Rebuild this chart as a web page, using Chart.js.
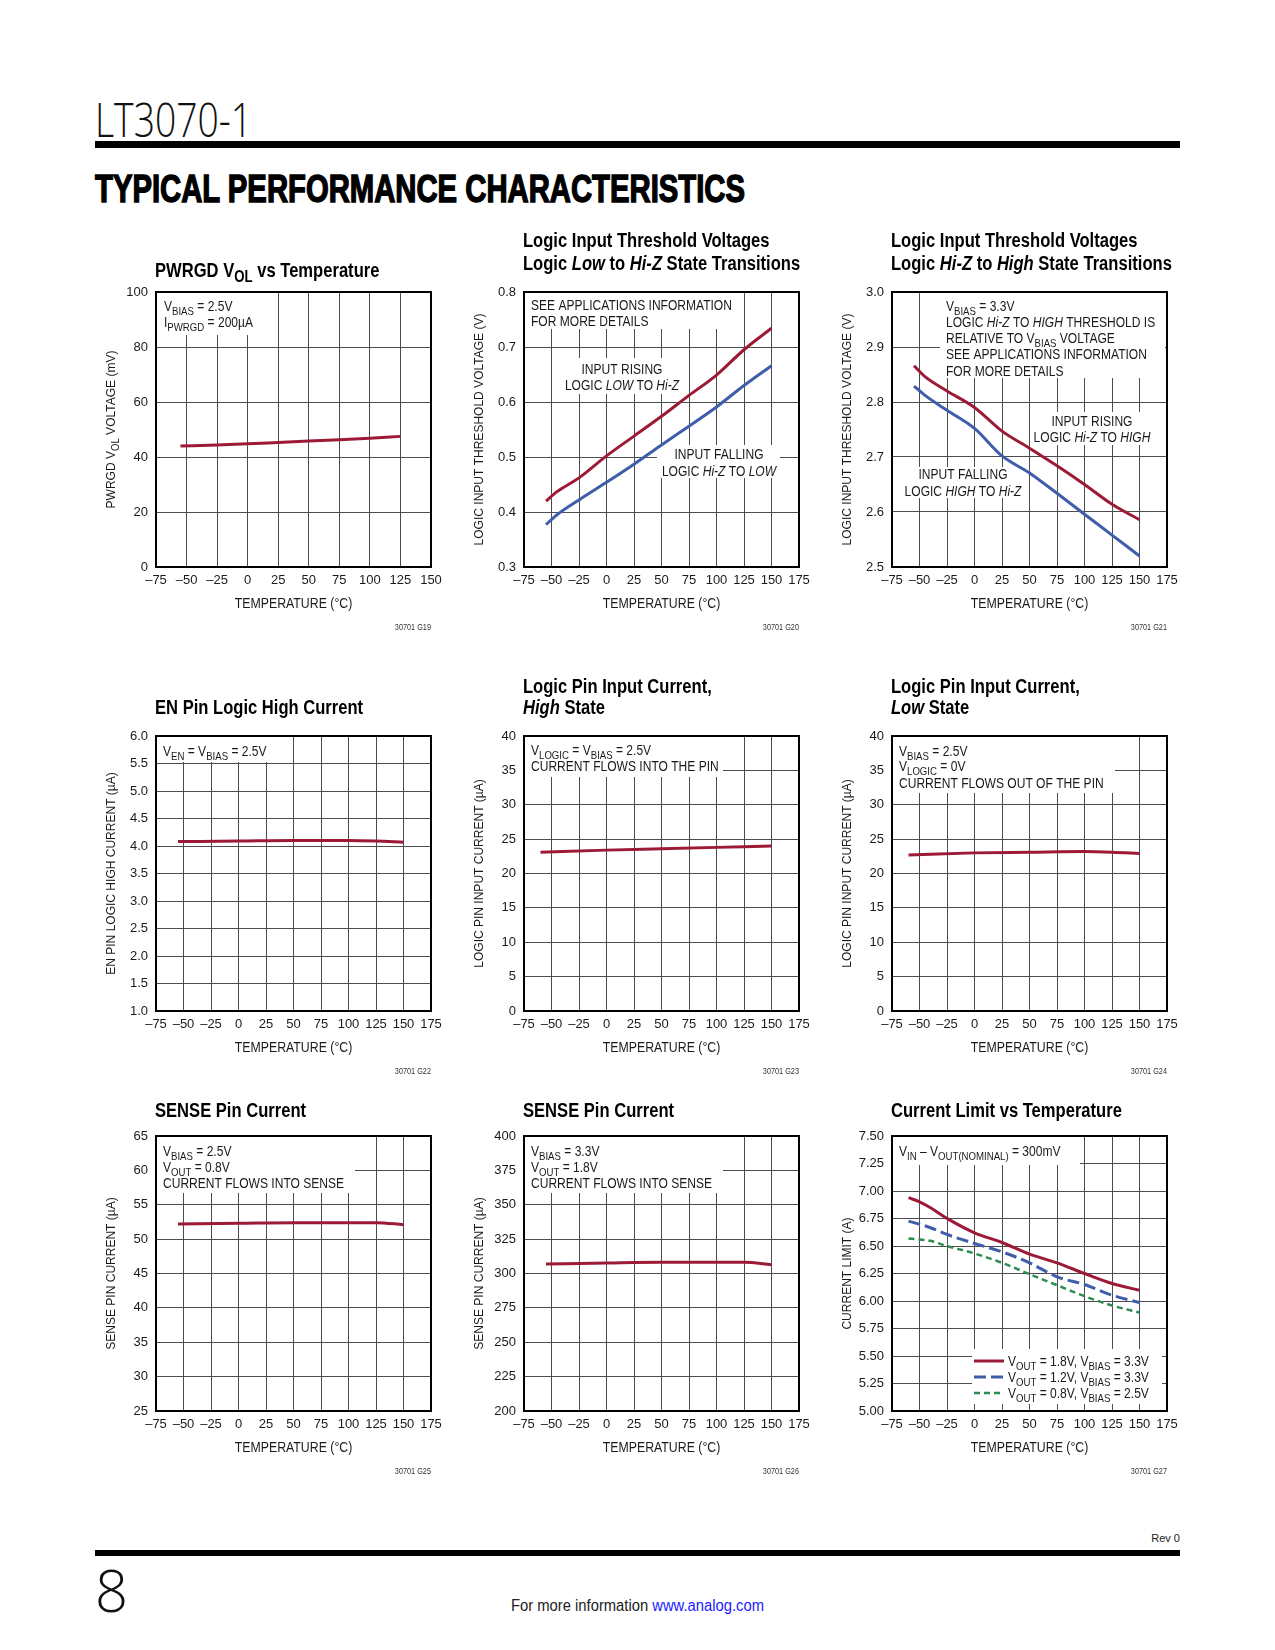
<!DOCTYPE html>
<html>
<head>
<meta charset="utf-8">
<script src="https://cdn.jsdelivr.net/npm/chart.js@4.4.1/dist/chart.umd.min.js"></script>
<style>
  body { margin: 0; width: 1275px; height: 1650px; background: #fff; position: relative; overflow: hidden; }
  .txt { position: absolute; white-space: nowrap; line-height: 1; transform-origin: left top; }
  .rule { position: absolute; background: #000; left: 95px; width: 1085px; }
  canvas { position: absolute; }
</style>
</head>
<body>
<div class="txt" id="part" style="left:95px;top:96px;font:300 48px 'Open Sans','DejaVu Sans',sans-serif;color:#111">LT3070-1</div>
<div class="rule" style="top:141px;height:7px"></div>
<div class="txt" id="tpc" style="left:95px;top:170px;font:bold 38px 'Liberation Sans',Arial,sans-serif;-webkit-text-stroke:1.4px #000;color:#000">TYPICAL PERFORMANCE CHARACTERISTICS</div>

<div class="txt" id="rev" style="top:1532px;font:11px 'Liberation Sans',Arial,sans-serif;color:#222">Rev 0</div>
<div class="rule" style="top:1550px;height:6px"></div>
<div class="txt" id="pg" style="left:95px;top:1563px;font:300 58px 'Open Sans','DejaVu Sans',sans-serif;color:#111">8</div>
<div class="txt" id="more" style="left:511px;top:1598px;font:16px 'Liberation Sans',Arial,sans-serif;color:#222">For more information <span style="color:#1a1aff">www.analog.com</span></div>

<script>
// ---------- data ----------
// G19 PWRGD VOL vs temperature
const g19Temp = [-55, -25, 0, 25, 50, 75, 100, 125];
const g19Vol = [44.0, 44.4, 44.8, 45.3, 45.8, 46.3, 46.8, 47.5];

// G20 logic low to Hi-Z thresholds
const g20Temp = [-55, -45, -25, 0, 25, 50, 75, 100, 125, 150];
const g20Rising = [0.420, 0.437, 0.462, 0.502, 0.538, 0.574, 0.612, 0.649, 0.695, 0.734];
const g20Falling = [0.377, 0.395, 0.422, 0.454, 0.487, 0.522, 0.556, 0.591, 0.630, 0.666];

// G21 logic Hi-Z to high thresholds
const g21Temp = [-55, -45, -25, 0, 25, 50, 75, 100, 125, 150];
const g21Rising = [2.866, 2.846, 2.820, 2.790, 2.747, 2.716, 2.684, 2.650, 2.614, 2.586];
const g21Falling = [2.829, 2.812, 2.785, 2.752, 2.702, 2.671, 2.634, 2.596, 2.558, 2.520];

// G22 EN pin logic high current
const g22Temp = [-55, 0, 50, 100, 125, 150];
const g22Cur = [4.08, 4.09, 4.10, 4.10, 4.09, 4.07];

// G23 logic pin input current, high state
const g23Temp = [-60, 0, 50, 100, 150];
const g23Cur = [23.1, 23.4, 23.6, 23.8, 24.0];

// G24 logic pin input current, low state
const g24Temp = [-60, 0, 50, 100, 125, 150];
const g24Cur = [22.7, 23.0, 23.1, 23.2, 23.1, 22.9];

// G25 / G26 SENSE pin current
const g25Temp = [-55, 0, 50, 100, 125, 150];
const g25Cur = [52.2, 52.3, 52.4, 52.4, 52.4, 52.1];
const g26Temp = [-55, 0, 50, 100, 125, 150];
const g26Cur = [306.9, 307.6, 308.1, 308.1, 308.1, 306.4];

// G27 current limit vs temperature
const g27Temp = [-60, -50, -40, -25, 0, 25, 50, 75, 100, 125, 150];
const g27Vout18 = [6.939, 6.902, 6.848, 6.751, 6.620, 6.532, 6.426, 6.347, 6.250, 6.159, 6.098];
const g27Vout12 = [6.726, 6.699, 6.666, 6.605, 6.523, 6.447, 6.347, 6.220, 6.150, 6.053, 5.986];
const g27Vout08 = [6.569, 6.560, 6.547, 6.499, 6.432, 6.347, 6.244, 6.144, 6.044, 5.959, 5.895];
const g27Labels = ["V_{OUT} = 1.8V, V_{BIAS} = 3.3V", "V_{OUT} = 1.2V, V_{BIAS} = 3.3V", "V_{OUT} = 0.8V, V_{BIAS} = 2.5V"];

// ---------- drawing helpers ----------
const FONT = '"Liberation Sans", Arial, Helvetica, sans-serif';
const RED = '#9d1a36', BLUE = '#3e5ea9', GREEN = '#2e8b4f';
const NARROW = 0.86; // squeeze to imitate the condensed datasheet face

// tiny markup: _{sub} and *italic*
function richSegs(str) {
  const out = [];
  let it = false, buf = '', i = 0;
  const push = () => { if (buf) out.push({ t: buf, it, sub: false }); buf = ''; };
  while (i < str.length) {
    const c = str[i];
    if (c === '*') { push(); it = !it; i++; }
    else if (c === '_' && str[i + 1] === '{') {
      push();
      const j = str.indexOf('}', i);
      out.push({ t: str.slice(i + 2, j), it, sub: true });
      i = j + 1;
    } else { buf += c; i++; }
  }
  push();
  return out;
}

function drawRich(ctx, str, x, y, size, opts) {
  opts = opts || {};
  const k = opts.k || NARROW;
  const segs = richSegs(str);
  const weight = opts.bold ? 'bold ' : '';
  const fnt = s => (s.it ? 'italic ' : '') + weight + (s.sub ? size * 0.8 : size) + 'px ' + FONT;
  let w = 0;
  segs.forEach(s => { ctx.font = fnt(s); s.w = ctx.measureText(s.t).width; w += s.w; });
  let x0 = x;
  if (opts.align === 'center') x0 = x - w * k / 2;
  else if (opts.align === 'right') x0 = x - w * k;
  ctx.save();
  ctx.translate(x0, y);
  ctx.scale(k, 1);
  ctx.fillStyle = opts.color || '#1a1a1a';
  ctx.textAlign = 'left';
  ctx.textBaseline = 'alphabetic';
  let cx = 0;
  segs.forEach(s => {
    ctx.font = fnt(s);
    ctx.fillText(s.t, cx, s.sub ? size * 0.28 : 0);
    cx += s.w;
  });
  ctx.restore();
  return w * k;
}

const NOTE = 14;

const sheetPlugin = {
  id: 'sheet',
  beforeDatasetsDraw(chart, args, o) {
    const { ctx, chartArea: a } = chart;
    ctx.save();
    (o.notes || []).forEach(n => {
      const [x0, y0, x1, y1] = n.box;
      ctx.fillStyle = '#fff';
      ctx.fillRect(a.left + x0, a.top + y0, x1 - x0, y1 - y0);
      n.lines.forEach(l => drawRich(ctx, l[0], a.left + n.x, a.top + l[1] + NOTE * 0.36, NOTE, { align: n.align }));
    });
    ctx.restore();
  },
  afterDatasetsDraw(chart, args, o) {
    const { ctx, chartArea: a } = chart;
    ctx.save();
    // legend (G27)
    if (o.legend) {
      const L = o.legend;
      const [x0, y0, x1, y1] = L.box;
      ctx.fillStyle = '#fff';
      ctx.fillRect(a.left + x0, a.top + y0, x1 - x0, y1 - y0);
      chart.data.datasets.forEach((ds, i) => {
        const yy = a.top + L.rows[i];
        ctx.beginPath();
        ctx.strokeStyle = ds.borderColor;
        ctx.lineWidth = ds.borderWidth;
        ctx.setLineDash(ds.borderDash || []);
        ctx.moveTo(a.left + L.x0, yy);
        ctx.lineTo(a.left + L.x1, yy);
        ctx.stroke();
        ctx.setLineDash([]);
        drawRich(ctx, L.labels[i], a.left + L.tx, yy + NOTE * 0.36, NOTE);
      });
    }
    // frame
    ctx.strokeStyle = '#000';
    ctx.lineWidth = 2;
    ctx.strokeRect(a.left, a.top, a.right - a.left, a.bottom - a.top);
    // chart title
    o.title.forEach(l => drawRich(ctx, l[0], a.left - 1, a.top + l[1], 19.5, { bold: true, color: '#000', k: 0.85 }));
    // axis titles
    drawRich(ctx, 'TEMPERATURE (°C)', (a.left + a.right) / 2, a.bottom + 36 + 14 * 0.36, 14, { align: 'center', k: 0.88 });
    ctx.translate(a.left - 46, (a.top + a.bottom) / 2);
    ctx.rotate(-Math.PI / 2);
    drawRich(ctx, o.yTitle, 0, 13.5 * 0.36, 13.5, { align: 'center', k: 0.89 });
    ctx.setTransform(1, 0, 0, 1, 0, 0);
    // figure code
    drawRich(ctx, o.code, a.right, a.bottom + 60 + 3, 8.5, { align: 'right', color: '#333' });
    ctx.restore();
  }
};

function series(temps, vals, color, extra) {
  return Object.assign({
    data: temps.map((t, i) => ({ x: t, y: vals[i] })),
    borderColor: color,
    borderWidth: 3,
    pointRadius: 0,
    fill: false,
    tension: 0.4,
    cubicInterpolationMode: 'monotone'
  }, extra || {});
}

function tickFont() { return { family: FONT, size: 13 }; }

function build(spec, datasets) {
  const canvas = document.createElement('canvas');
  canvas.width = 390;
  canvas.height = 425;
  canvas.style.left = (spec.left - 90) + 'px';
  canvas.style.top = (spec.top - 75) + 'px';
  canvas.style.width = '390px';
  canvas.style.height = '425px';
  document.body.appendChild(canvas);
  const grid = { color: '#4d4d4d', lineWidth: 1, drawTicks: false };
  new Chart(canvas.getContext('2d'), {
    type: 'line',
    data: { datasets },
    options: {
      responsive: false,
      animation: false,
      devicePixelRatio: 1,
      layout: { padding: { left: 0, top: 75, right: 25, bottom: 0 } },
      plugins: { legend: { display: false }, tooltip: { enabled: false }, sheet: spec },
      scales: {
        x: {
          type: 'linear', min: -75, max: spec.xMax,
          afterFit: s => { s.height = 75; },
          grid, border: { display: false },
          ticks: {
            stepSize: 25, autoSkip: false, maxRotation: 0, padding: 6, color: '#1a1a1a', font: tickFont(),
            callback: v => v < 0 ? '\u2013' + (-v) : String(v)
          }
        },
        y: {
          min: spec.yMin, max: spec.yMax,
          afterFit: s => { s.width = 90; },
          grid, border: { display: false },
          ticks: {
            stepSize: spec.yStep, autoSkip: false, padding: 8, color: '#1a1a1a', font: tickFont(),
            callback: v => Number(v).toFixed(spec.yDigits)
          }
        }
      }
    },
    plugins: [sheetPlugin]
  });
}

// ---------- the nine graphs ----------
build({
  left: 156, top: 292, xMax: 150, yMin: 0, yMax: 100, yStep: 20, yDigits: 0,
  title: [['PWRGD V_{OL} vs Temperature', -15]],
  yTitle: 'PWRGD V_{OL} VOLTAGE (mV)', code: '30701 G19',
  notes: [{ box: [0, 0, 111, 43], x: 8, lines: [['V_{BIAS} = 2.5V', 14], ['I_{PWRGD} = 200µA', 30]] }]
}, [series(g19Temp, g19Vol, RED)]);

build({
  left: 524, top: 292, xMax: 175, yMin: 0.3, yMax: 0.8, yStep: 0.1, yDigits: 1,
  title: [['Logic Input Threshold Voltages', -45], ['Logic *Low* to *Hi-Z* State Transitions', -22]],
  yTitle: 'LOGIC INPUT THRESHOLD VOLTAGE (V)', code: '30701 G20',
  notes: [
    { box: [0, 0, 219, 37], x: 7, lines: [['SEE APPLICATIONS INFORMATION', 13], ['FOR MORE DETAILS', 29]] },
    { box: [36, 66, 160, 102], x: 98, align: 'center', lines: [['INPUT RISING', 77], ['LOGIC *LOW* TO *Hi-Z*', 93]] },
    { box: [133, 153, 256, 186], x: 195, align: 'center', lines: [['INPUT FALLING', 162], ['LOGIC *Hi-Z* TO *LOW*', 179]] }
  ]
}, [series(g20Temp, g20Rising, RED), series(g20Temp, g20Falling, BLUE)]);

build({
  left: 892, top: 292, xMax: 175, yMin: 2.5, yMax: 3.0, yStep: 0.1, yDigits: 1,
  title: [['Logic Input Threshold Voltages', -45], ['Logic *Hi-Z* to *High* State Transitions', -22]],
  yTitle: 'LOGIC INPUT THRESHOLD VOLTAGE (V)', code: '30701 G21',
  notes: [
    { box: [48, 0, 273, 86], x: 54, lines: [['V_{BIAS} = 3.3V', 14], ['LOGIC *Hi-Z* TO *HIGH* THRESHOLD IS', 30],
      ['RELATIVE TO V_{BIAS} VOLTAGE', 46], ['SEE APPLICATIONS INFORMATION', 62], ['FOR MORE DETAILS', 79]] },
    { box: [138, 120, 262, 153], x: 200, align: 'center', lines: [['INPUT RISING', 129], ['LOGIC *Hi-Z* TO *HIGH*', 145]] },
    { box: [10, 175, 133, 206], x: 71, align: 'center', lines: [['INPUT FALLING', 182], ['LOGIC *HIGH* TO *Hi-Z*', 199]] }
  ]
}, [series(g21Temp, g21Rising, RED), series(g21Temp, g21Falling, BLUE)]);

build({
  left: 156, top: 736, xMax: 175, yMin: 1, yMax: 6, yStep: 0.5, yDigits: 1,
  title: [['EN Pin Logic High Current', -22]],
  yTitle: 'EN PIN LOGIC HIGH CURRENT (µA)', code: '30701 G22',
  notes: [{ box: [0, 0, 119, 26], x: 7, lines: [['V_{EN} = V_{BIAS} = 2.5V', 15]] }]
}, [series(g22Temp, g22Cur, RED)]);

build({
  left: 524, top: 736, xMax: 175, yMin: 0, yMax: 40, yStep: 5, yDigits: 0,
  title: [['Logic Pin Input Current,', -43], ['*High* State', -22]],
  yTitle: 'LOGIC PIN INPUT CURRENT (µA)', code: '30701 G23',
  notes: [{ box: [0, 0, 199, 41], x: 7, lines: [['V_{LOGIC} = V_{BIAS} = 2.5V', 14], ['CURRENT FLOWS INTO THE PIN', 30]] }]
}, [series(g23Temp, g23Cur, RED)]);

build({
  left: 892, top: 736, xMax: 175, yMin: 0, yMax: 40, yStep: 5, yDigits: 0,
  title: [['Logic Pin Input Current,', -43], ['*Low* State', -22]],
  yTitle: 'LOGIC PIN INPUT CURRENT (µA)', code: '30701 G24',
  notes: [{ box: [0, 0, 223, 57], x: 7, lines: [['V_{BIAS} = 2.5V', 15], ['V_{LOGIC} = 0V', 30], ['CURRENT FLOWS OUT OF THE PIN', 47]] }]
}, [series(g24Temp, g24Cur, RED)]);

build({
  left: 156, top: 1136, xMax: 175, yMin: 25, yMax: 65, yStep: 5, yDigits: 0,
  title: [['SENSE Pin Current', -19]],
  yTitle: 'SENSE PIN CURRENT (µA)', code: '30701 G25',
  notes: [{ box: [0, 0, 199, 57], x: 7, lines: [['V_{BIAS} = 2.5V', 15], ['V_{OUT} = 0.8V', 31], ['CURRENT FLOWS INTO SENSE', 47]] }]
}, [series(g25Temp, g25Cur, RED)]);

build({
  left: 524, top: 1136, xMax: 175, yMin: 200, yMax: 400, yStep: 25, yDigits: 0,
  title: [['SENSE Pin Current', -19]],
  yTitle: 'SENSE PIN CURRENT (µA)', code: '30701 G26',
  notes: [{ box: [0, 0, 199, 57], x: 7, lines: [['V_{BIAS} = 3.3V', 15], ['V_{OUT} = 1.8V', 31], ['CURRENT FLOWS INTO SENSE', 47]] }]
}, [series(g26Temp, g26Cur, RED)]);

build({
  left: 892, top: 1136, xMax: 175, yMin: 5, yMax: 7.5, yStep: 0.25, yDigits: 2,
  title: [['Current Limit vs Temperature', -19]],
  yTitle: 'CURRENT LIMIT (A)', code: '30701 G27',
  notes: [{ box: [0, 0, 188, 29], x: 7, lines: [['V_{IN} \u2013 V_{OUT(NOMINAL)} = 300mV', 15]] }],
  legend: { box: [80, 213, 270, 268], x0: 82, x1: 112, tx: 116, rows: [225, 241, 257], labels: g27Labels }
}, [
  series(g27Temp, g27Vout18, RED),
  series(g27Temp, g27Vout12, BLUE, { borderDash: [12, 5] }),
  series(g27Temp, g27Vout08, GREEN, { borderWidth: 2.5, borderDash: [6, 4] })
]);

// ---------- page text: baseline placement and width fitting ----------
function place(id, baseline, width, rightEdge) {
  const el = document.getElementById(id);
  const probe = document.createElement('span');
  probe.style.cssText = 'display:inline-block;width:0;height:0;vertical-align:baseline';
  el.appendChild(probe);
  el.style.top = '0px';
  const off = probe.getBoundingClientRect().top - el.getBoundingClientRect().top;
  el.style.top = (baseline - off) + 'px';
  if (width) {
    const cur = el.getBoundingClientRect().width;
    el.style.transform = 'scaleX(' + (width / cur) + ')';
  }
  if (rightEdge) el.style.left = (rightEdge - el.getBoundingClientRect().width) + 'px';
}
place('part', 137, 157);
place('tpc', 202, 650);
place('rev', 1542, 0, 1180);
place('pg', 1612, 33);
place('more', 1611, 253);
</script>
</body>
</html>
